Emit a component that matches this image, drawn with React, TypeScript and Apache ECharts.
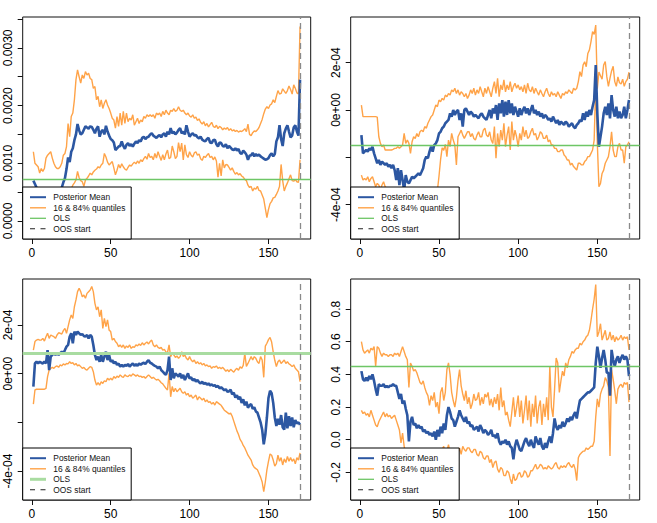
import React, { useEffect, useRef } from 'react';
import * as echarts from 'echarts';

// Observation index runs 1..170; the out-of-sample period starts at 170.
const OOS_START = 170;
const X_TICKS = [0, 50, 100, 150];

// Panel 1 (top left), values in units of 1e-3
const p1Mean = [
  0.70, 0.64, 0.58, 0.52, 0.50, 0.47, 0.49, 0.45, 0.47, 0.44,
  0.42, 0.45, 0.43, 0.46, 0.44, 0.48, 0.47, 0.52, 0.58, 0.67,
  0.74, 0.90, 1.10, 1.02, 1.20, 1.26, 1.40, 1.50, 1.68, 1.57,
  1.50, 1.52, 1.58, 1.64, 1.62, 1.60, 1.64, 1.63, 1.58, 1.52,
  1.60, 1.64, 1.46, 1.55, 1.58, 1.50, 1.65, 1.55, 1.48, 1.42,
  1.40, 1.36, 1.23, 1.26, 1.29, 1.30, 1.38, 1.30, 1.25, 1.32,
  1.35, 1.30, 1.33, 1.29, 1.34, 1.38, 1.35, 1.40, 1.38, 1.44,
  1.46, 1.42, 1.45, 1.46, 1.50, 1.52, 1.48, 1.46, 1.44, 1.47,
  1.49, 1.45, 1.50, 1.52, 1.46, 1.55, 1.50, 1.61, 1.52, 1.55,
  1.50, 1.53, 1.58, 1.61, 1.52, 1.55, 1.50, 1.66, 1.55, 1.46,
  1.50, 1.52, 1.48, 1.49, 1.45, 1.43, 1.46, 1.41, 1.39, 1.38,
  1.42, 1.44, 1.36, 1.35, 1.40, 1.41, 1.33, 1.29, 1.36, 1.35,
  1.30, 1.29, 1.33, 1.26, 1.30, 1.27, 1.24, 1.23, 1.26, 1.22,
  1.25, 1.18, 1.16, 1.22, 1.19, 1.15, 1.06, 1.13, 1.14, 1.18,
  1.12, 1.16, 1.13, 1.15, 1.12, 1.10, 1.08, 1.06, 1.07, 1.09,
  1.14, 1.17, 1.12, 1.16, 1.38, 1.45, 1.66, 1.42, 1.30, 1.52,
  1.60, 1.66, 1.55, 1.45, 1.48, 1.62, 1.66, 1.55, 1.48, 2.45,
];
const p1Upper = [
  1.20, 1.00, 0.97, 0.94, 0.83, 0.91, 0.86, 0.91, 1.09, 1.14,
  1.17, 1.20, 1.09, 1.00, 0.94, 0.91, 0.91, 0.94, 1.00, 1.14,
  1.17, 1.29, 1.69, 1.46, 1.81, 1.87, 2.10, 2.45, 2.62, 2.50,
  2.39, 2.53, 2.47, 2.59, 2.53, 2.56, 2.47, 2.45, 2.30, 2.33,
  2.10, 2.16, 1.98, 2.10, 1.95, 2.04, 2.10, 2.01, 1.95, 1.87,
  1.78, 1.75, 1.61, 1.81, 1.64, 1.87, 1.66, 1.90, 1.69, 1.87,
  1.72, 1.78, 1.75, 1.84, 1.66, 1.72, 1.78, 1.69, 1.75, 1.72,
  1.81, 1.78, 1.84, 1.81, 1.84, 1.81, 1.84, 1.78, 1.87, 1.84,
  1.87, 1.81, 1.90, 1.84, 1.92, 1.87, 1.84, 1.92, 1.90, 1.95,
  1.90, 1.92, 1.98, 1.92, 1.90, 1.92, 1.87, 1.84, 1.87, 1.82,
  1.80, 1.84, 1.78, 1.80, 1.74, 1.77, 1.71, 1.68, 1.72, 1.65,
  1.69, 1.63, 1.67, 1.71, 1.64, 1.62, 1.66, 1.60, 1.64, 1.62,
  1.58, 1.61, 1.59, 1.62, 1.57, 1.60, 1.56, 1.58, 1.55, 1.57,
  1.54, 1.56, 1.55, 1.57, 1.60, 1.55, 1.68, 1.50, 1.48, 1.53,
  1.56, 1.55, 1.58, 1.62, 1.69, 1.76, 1.86, 1.94, 1.98, 1.95,
  2.01, 2.03, 2.10, 2.05, 2.16, 2.26, 2.20, 2.21, 2.29, 2.25,
  2.21, 2.26, 2.34, 2.28, 2.20, 2.36, 2.30, 2.22, 2.20, 3.37,
];
const p1Lower = [
  0.40, 0.35, 0.30, 0.26, 0.22, 0.25, 0.20, 0.18, 0.22, 0.19,
  0.16, 0.20, 0.17, 0.21, 0.18, 0.22, 0.20, 0.25, 0.28, 0.32,
  0.36, 0.42, 0.48, 0.52, 0.56, 0.62, 0.66, 0.71, 0.86, 0.75,
  0.70, 0.68, 0.60, 0.71, 0.74, 0.78, 0.83, 0.80, 0.85, 0.88,
  0.90, 0.94, 0.92, 0.97, 1.00, 1.17, 1.11, 1.02, 0.97, 1.00,
  1.03, 0.92, 0.80, 0.88, 0.98, 0.92, 0.99, 0.94, 0.90, 0.88,
  0.93, 0.97, 0.95, 0.99, 1.02, 0.99, 1.04, 1.00, 1.06, 1.03,
  1.08, 1.12, 1.07, 1.17, 1.10, 1.12, 1.06, 1.17, 1.09, 1.20,
  1.12, 1.05, 1.15, 1.06, 1.16, 1.23, 1.08, 1.10, 1.30, 1.20,
  1.08, 1.12, 1.36, 1.20, 1.35, 1.06, 1.32, 1.15, 1.10, 1.20,
  1.14, 1.11, 1.18, 1.20, 1.14, 1.16, 1.08, 1.05, 1.12, 1.10,
  1.14, 1.17, 1.10, 1.12, 1.06, 1.11, 1.04, 0.76, 1.00, 0.78,
  1.06, 0.92, 0.98, 0.97, 0.93, 0.88, 0.92, 0.86, 0.81, 0.84,
  0.80, 0.82, 0.78, 0.76, 0.72, 0.70, 0.62, 0.58, 0.60, 0.52,
  0.57, 0.55, 0.60, 0.53, 0.52, 0.45, 0.38, 0.22, 0.06, 0.20,
  0.30, 0.34, 0.40, 0.41, 0.46, 0.52, 0.60, 0.98, 0.70, 0.52,
  0.60, 0.66, 0.73, 0.80, 0.70, 0.69, 0.72, 0.68, 0.67, 1.06,
];
const p1Ols = 0.72;

// Panel 2 (top right), values in units of 1e-4
const p2Mean = [
  -1.06, -1.83, -1.76, -1.69, -1.76, -1.62, -1.69, -1.55, -1.83, -2.04,
  -2.25, -2.11, -2.32, -2.18, -2.25, -2.32, -2.25, -2.39, -2.32, -2.46,
  -2.32, -2.54, -2.96, -2.46, -3.17, -2.54, -2.96, -3.38, -2.75, -3.03,
  -3.10, -2.96, -2.82, -2.89, -2.82, -2.75, -2.68, -2.75, -2.61, -2.46,
  -2.11, -1.97, -2.04, -1.76, -1.55, -1.76, -1.48, -1.41, -1.27, -0.99,
  -0.92, -0.77, -0.70, -0.56, -0.49, -0.42, -0.14, -0.28, 0.00, -0.21,
  -0.07, 0.00, -0.42, -0.14, -0.70, 0.00, 0.07, -0.07, -0.21, -0.07,
  -0.14, -0.28, -0.21, -0.28, -0.35, -0.21, -0.14, -0.28, -0.35, -0.42,
  -0.21, 0.00, -0.35, 0.07, -0.14, 0.21, -0.42, 0.28, -0.14, 0.42,
  -0.28, 0.35, -0.21, 0.42, -0.14, 0.28, -0.21, 0.14, -0.07, -0.28,
  0.07, -0.21, 0.00, 0.14, -0.14, 0.07, -0.21, 0.00, 0.21, -0.14,
  0.00, -0.21, -0.07, -0.28, -0.14, -0.35, -0.21, -0.28, -0.42, -0.35,
  -0.49, -0.28, -0.42, -0.56, -0.42, -0.63, -0.49, -0.56, -0.63, -0.49,
  -0.56, -0.70, -0.63, -0.56, -0.70, -0.77, -0.63, -0.56, -0.42, -0.49,
  -0.14, -0.42, -0.07, -0.28, 0.00, -0.21, 0.14, 0.42, 1.90, -0.14,
  -1.55, -1.13, -0.70, -0.14, 0.14, -0.21, 0.28, -0.35, 0.63, 0.00,
  -0.28, 0.14, -0.35, -0.07, -0.35, -0.21, 0.14, -0.35, 0.00, 0.42,
];
const p2Upper = [
  0.21, -0.28, -0.28, -0.28, -0.28, -0.28, -0.28, -0.28, -0.28, -0.28,
  -0.30, -1.13, -1.41, -1.55, -1.48, -1.69, -1.69, -1.69, -1.69, -1.69,
  -1.66, -1.62, -1.62, -1.55, -1.62, -1.55, -1.48, -0.99, -1.41, -1.27,
  -1.41, -1.83, -1.34, -1.13, -1.20, -0.99, -1.13, -0.92, -0.85, -0.92,
  -0.70, -0.77, -0.56, -0.42, -0.28, -0.21, 0.00, 0.21, 0.14, 0.42,
  0.35, 0.49, 0.42, 0.63, 0.56, 0.70, 0.63, 0.85, 0.77, 0.92,
  0.70, 0.85, 0.63, 0.77, 0.70, 0.56, 0.70, 0.49, 0.63, 0.85,
  0.70, 0.92, 0.63, 0.85, 0.70, 0.99, 0.77, 0.56, 0.92, 0.70,
  0.99, 0.77, 0.56, 0.92, 1.20, 0.70, 1.34, 0.56, 1.06, 0.85,
  1.27, 0.77, 1.06, 0.85, 1.20, 0.77, 0.99, 1.13, 0.92, 1.06,
  0.85, 0.99, 0.77, 1.06, 0.70, 1.13, 0.85, 0.77, 0.99, 0.70,
  0.92, 0.77, 0.63, 0.85, 0.70, 0.56, 0.77, 0.92, 0.70, 0.56,
  0.77, 0.63, 0.70, 0.56, 0.77, 0.63, 0.49, 0.70, 0.63, 0.77,
  0.70, 0.85, 0.77, 0.70, 0.92, 0.85, 0.92, 1.20, 1.62, 1.41,
  1.90, 2.04, 1.83, 2.39, 2.54, 2.89, 3.31, 3.20, 3.59, 0.90,
  1.60, 1.45, 1.30, 1.90, 2.05, 1.40, 1.00, 1.35, 1.65, 1.85,
  1.20, 1.00, 1.40, 1.15, 1.10, 1.30, 1.00, 1.20, 1.30, 1.60,
];
const p2Lower = [
  -2.75, -2.96, -2.89, -2.96, -2.82, -3.03, -2.89, -2.82, -3.03, -3.24,
  -3.10, -3.17, -3.38, -3.17, -3.03, -3.24, -3.31, -3.45, -3.38, -3.60,
  -3.70, -3.85, -4.00, -4.10, -4.25, -4.15, -4.35, -4.50, -4.30, -4.45,
  -4.60, -4.40, -4.55, -4.45, -4.60, -4.50, -4.40, -4.55, -4.35, -4.45,
  -4.30, -4.20, -4.35, -4.10, -4.20, -4.00, -3.90, -3.70, -3.40, -2.80,
  -2.10, -1.60, -1.70, -1.45, -1.97, -1.27, -1.55, -0.99, -1.27, -1.48,
  -2.32, -1.13, -0.99, -0.85, -1.06, -1.20, -1.06, -0.92, -0.92, -1.13,
  -0.99, -1.20, -1.27, -1.06, -0.92, -1.13, -1.13, -0.85, -0.77, -1.06,
  -1.13, -0.92, -1.27, -1.41, -0.70, -2.04, -0.99, -1.55, -0.85, -1.27,
  -0.56, -1.55, -1.06, -0.70, -1.69, -0.49, -1.27, -0.85, -1.13, -1.55,
  -0.99, -1.27, -0.70, -1.13, -0.85, -1.20, -1.13, -0.92, -0.77, -1.06,
  -0.99, -1.27, -1.13, -0.92, -0.99, -1.20, -1.20, -1.06, -1.34, -1.27,
  -1.48, -1.48, -1.62, -1.62, -1.76, -1.76, -1.69, -1.69, -1.90, -1.97,
  -2.11, -2.11, -2.32, -2.25, -2.39, -2.46, -2.54, -2.25, -2.25, -2.32,
  -2.32, -2.18, -2.11, -1.97, -1.97, -1.83, -1.69, -1.27, 1.13, -1.41,
  -3.24, -3.10, -2.68, -2.54, -2.25, -2.11, -1.97, -1.55, -0.92, -1.69,
  -1.97, -1.97, -1.55, -1.41, -1.69, -1.69, -2.25, -1.55, -1.48, -1.34,
];
const p2Ols = -1.49;

// Panel 3 (bottom left), values in units of 1e-4
const p3Mean = [
  -0.53, 0.42, 0.49, 0.42, 0.49, 0.45, 0.42, 0.49, 0.42, 0.97,
  0.15, 0.70, 0.77, 0.84, 0.77, 0.84, 0.77, 0.84, 0.90, 0.84,
  0.97, 1.11, 1.18, 1.52, 1.66, 1.25, 1.73, 1.59, 1.73, 1.66,
  1.59, 1.63, 1.55, 1.52, 1.59, 1.45, 1.59, 1.52, 1.18, 0.77,
  0.56, 0.70, 0.49, 0.77, 0.49, 0.70, 0.90, 0.56, 0.77, 0.49,
  0.56, 0.42, 0.49, 0.36, 0.42, 0.29, 0.36, 0.29, 0.36, 0.32,
  0.40, 0.29, 0.36, 0.42, 0.32, 0.40, 0.32, 0.42, 0.36, 0.42,
  0.45, 0.40, 0.49, 0.56, 0.45, 0.42, 0.36, 0.32, 0.29, 0.22,
  0.29, 0.15, 0.08, 0.01, -0.05, 0.15, 0.70, -0.26, 0.22, -0.19,
  0.01, -0.05, -0.12, 0.01, -0.19, -0.05, -0.26, -0.12, 0.01, -0.20,
  -0.15, -0.28, -0.22, -0.32, -0.26, -0.35, -0.40, -0.33, -0.42, -0.38,
  -0.45, -0.40, -0.48, -0.44, -0.50, -0.47, -0.55, -0.50, -0.60, -0.56,
  -0.62, -0.68, -0.64, -0.75, -0.72, -0.66, -0.85, -0.78, -0.98, -0.88,
  -1.05, -0.95, -1.20, -1.05, -1.30, -1.15, -1.40, -1.30, -1.25, -1.45,
  -1.38, -1.55, -1.60, -1.80, -2.00, -2.30, -2.90, -2.50, -1.80, -1.00,
  -0.70, -0.80, -1.20, -1.80, -2.15, -1.85, -2.10, -1.70, -2.20, -2.30,
  -1.60, -2.25, -1.75, -2.15, -1.80, -2.20, -1.90, -2.05, -2.00, -2.10,
];
const p3Upper = [
  0.97, 1.32, 1.38, 1.41, 1.38, 1.38, 1.45, 1.34, 1.52, 1.66,
  1.45, 1.59, 1.55, 1.52, 1.45, 1.59, 1.68, 1.66, 1.63, 1.77,
  1.86, 1.66, 1.93, 2.21, 2.41, 2.27, 2.75, 3.03, 3.37, 3.51,
  3.37, 3.16, 3.23, 3.10, 3.30, 3.37, 3.44, 3.58, 3.37, 2.89,
  2.62, 2.75, 2.34, 2.62, 1.86, 2.27, 1.93, 2.21, 1.79, 1.73,
  1.38, 1.45, 1.32, 1.25, 1.11, 1.18, 1.08, 1.18, 1.04, 1.14,
  1.08, 1.18, 1.04, 1.11, 1.08, 1.18, 1.14, 1.22, 1.16, 1.27,
  1.18, 1.25, 1.30, 1.22, 1.32, 1.38, 1.18, 1.11, 1.18, 1.08,
  1.04, 1.08, 0.97, 1.00, 0.90, 0.86, 1.18, 0.70, 0.84, 0.77,
  0.67, 0.73, 0.63, 0.70, 0.90, 0.70, 0.77, 0.63, 0.56, 0.70,
  0.56, 0.49, 0.56, 0.42, 0.49, 0.40, 0.45, 0.36, 0.42, 0.32,
  0.36, 0.29, 0.32, 0.22, 0.29, 0.26, 0.32, 0.22, 0.26, 0.20,
  0.26, 0.18, 0.10, 0.16, 0.08, 0.18, 0.12, 0.06, 0.16, 0.22,
  0.14, 0.28, 0.22, 0.34, 0.84, 0.30, 0.42, 0.56, 0.70, 0.56,
  0.70, 0.63, 0.49, 0.42, 0.70, 0.56, -0.15, 1.13, 1.25, 1.40,
  1.49, 1.30, 0.90, 0.55, 0.29, 0.49, 0.56, 0.42, 0.49, 0.56,
  0.42, 0.49, 0.40, 0.36, 0.29, 0.36, 0.22, 0.15, 0.08, -0.33,
];
const p3Lower = [
  -1.25, -0.67, -0.64, -0.64, -0.64, -0.64, -0.64, -0.64, -0.60, -0.12,
  0.15, 0.22, 0.26, 0.22, 0.29, 0.32, 0.26, 0.36, 0.32, 0.40,
  0.36, 0.42, 0.40, 0.49, 0.42, 0.45, 0.36, 0.42, 0.32, 0.36,
  0.29, 0.22, 0.26, 0.18, 0.15, 0.22, 0.29, 0.26, 0.08, -0.26,
  -0.47, -0.37, -0.47, -0.33, -0.40, -0.29, -0.33, -0.19, -0.26, -0.19,
  -0.26, -0.12, -0.19, -0.10, -0.15, -0.05, -0.12, -0.15, -0.05, -0.10,
  -0.12, -0.05, -0.10, -0.01, -0.05, -0.10, -0.05, -0.12, -0.10, -0.15,
  -0.12, -0.19, -0.12, -0.05, -0.12, -0.19, -0.15, -0.21, -0.26, -0.23,
  -0.29, -0.37, -0.42, -0.51, -0.60, -0.67, 0.01, -0.95, -0.53, -0.74,
  -0.60, -0.74, -0.67, -0.60, -0.74, -0.81, -0.74, -0.88, -0.81, -0.95,
  -0.88, -1.01, -0.95, -0.88, -1.08, -0.95, -1.01, -1.08, -1.01, -1.15,
  -1.08, -1.18, -1.15, -1.25, -1.18, -1.29, -1.15, -1.20, -1.25, -1.30,
  -1.40, -1.50, -1.55, -1.60, -1.65, -1.62, -1.75, -1.95, -2.15, -2.35,
  -2.50, -2.70, -2.80, -2.95, -3.05, -3.20, -3.35, -3.45, -3.55, -3.75,
  -3.85, -3.90, -3.95, -4.10, -4.25, -4.45, -4.85, -4.45, -3.95, -3.60,
  -3.30, -3.35, -3.55, -3.80, -3.70, -3.35, -3.60, -3.45, -3.75, -3.50,
  -3.65, -3.40, -3.60, -3.45, -3.60, -3.50, -3.70, -3.45, -3.55, -3.25,
];
const p3Ols = 0.82;

// Panel 4 (bottom right), values in natural units
const p4Mean = [
  0.42, 0.37, 0.36, 0.38, 0.36, 0.39, 0.37, 0.40, 0.36, 0.31,
  0.27, 0.34, 0.33, 0.33, 0.34, 0.32, 0.33, 0.32, 0.33, 0.33,
  0.34, 0.33, 0.33, 0.29, 0.25, 0.28, 0.22, 0.24, 0.19, 0.15,
  -0.01, 0.11, 0.14, 0.09, 0.10, 0.07, 0.09, 0.07, 0.08, 0.05,
  0.06, 0.04, 0.05, 0.03, 0.04, 0.02, 0.05, 0.00, 0.06, 0.02,
  0.08, 0.04, 0.10, 0.06, 0.15, 0.20, 0.17, 0.13, 0.12, 0.08,
  0.11, 0.14, 0.18, 0.15, 0.13, 0.11, 0.14, 0.10, 0.11, 0.08,
  0.09, 0.06, 0.07, 0.08, 0.05, 0.09, 0.07, 0.04, 0.06, 0.05,
  0.03, 0.04, 0.06, 0.02, 0.03, 0.01, 0.04, -0.01, -0.03, -0.01,
  -0.02, 0.00, -0.03, -0.01, -0.04, -0.05, -0.12, -0.04, 0.00, -0.03,
  -0.06, -0.07, -0.04, -0.01, 0.01, -0.02, -0.04, 0.00, -0.03, -0.05,
  0.02, -0.01, -0.03, 0.01, -0.04, -0.06, -0.02, -0.05, -0.01, 0.02,
  -0.02, 0.04, 0.13, 0.08, 0.06, 0.09, 0.07, 0.11, 0.08, 0.10,
  0.13, 0.11, 0.14, 0.12, 0.15, 0.17, 0.13, 0.19, 0.24, 0.25,
  0.26, 0.27, 0.28, 0.29, 0.29, 0.30, 0.31, 0.32, 0.47, 0.57,
  0.51, 0.44, 0.50, 0.55, 0.49, 0.41, 0.41, 0.27, 0.55, 0.49,
  0.45, 0.49, 0.51, 0.47, 0.50, 0.52, 0.49, 0.51, 0.49, 0.39,
];
const p4Upper = [
  0.60, 0.55, 0.53, 0.54, 0.55, 0.53, 0.56, 0.55, 0.57, 0.45,
  0.57, 0.56, 0.53, 0.51, 0.53, 0.52, 0.52, 0.51, 0.52, 0.52,
  0.51, 0.53, 0.52, 0.53, 0.51, 0.54, 0.57, 0.54, 0.51, 0.49,
  0.32, 0.47, 0.45, 0.42, 0.43, 0.41, 0.38, 0.35, 0.34, 0.36,
  0.32, 0.29, 0.27, 0.21, 0.27, 0.24, 0.29, 0.20, 0.23, 0.16,
  0.29, 0.32, 0.24, 0.29, 0.43, 0.47, 0.40, 0.29, 0.24, 0.20,
  0.26, 0.36, 0.43, 0.33, 0.28, 0.24, 0.30, 0.22, 0.26, 0.19,
  0.22, 0.28, 0.24, 0.25, 0.29, 0.21, 0.26, 0.22, 0.28, 0.26,
  0.29, 0.21, 0.25, 0.20, 0.26, 0.22, 0.28, 0.18, 0.32, 0.20,
  0.24, 0.15, 0.17, 0.12, 0.08, 0.17, 0.26, 0.14, 0.20, 0.27,
  0.14, 0.24, 0.10, 0.18, 0.27, 0.12, 0.24, 0.08, 0.22, 0.14,
  0.27, 0.10, 0.20, 0.24, 0.09, 0.22, 0.14, 0.26, 0.12, 0.45,
  0.20, 0.14, 0.31, 0.50, 0.47, 0.29, 0.36, 0.42, 0.39, 0.47,
  0.44, 0.49, 0.51, 0.54, 0.53, 0.55, 0.56, 0.56, 0.59, 0.58,
  0.60, 0.61, 0.63, 0.64, 0.67, 0.73, 0.80, 0.86, 0.95, 0.63,
  0.66, 0.71, 0.61, 0.64, 0.67, 0.61, 0.62, 0.66, 0.61, 0.64,
  0.60, 0.63, 0.61, 0.62, 0.64, 0.61, 0.63, 0.62, 0.63, 0.55,
];
const p4Lower = [
  0.18, 0.16, 0.17, 0.15, 0.16, 0.14, 0.18, 0.15, 0.12, 0.09,
  0.08, 0.11, 0.13, 0.15, 0.17, 0.14, 0.16, 0.14, 0.15, 0.13,
  0.14, 0.15, 0.12, 0.09, 0.06, -0.02, 0.04, -0.04, -0.09, -0.12,
  -0.20, -0.14, -0.16, -0.12, -0.15, -0.13, -0.17, -0.14, -0.18, -0.15,
  -0.19, -0.16, -0.20, -0.17, -0.21, -0.16, -0.19, -0.14, -0.10, -0.12,
  -0.08, -0.06, -0.04, -0.09, -0.07, -0.03, -0.08, -0.11, -0.09, -0.12,
  -0.10, -0.08, -0.05, -0.09, -0.04, -0.06, -0.07, -0.05, -0.05, -0.07,
  -0.08, -0.06, -0.06, -0.09, -0.10, -0.07, -0.08, -0.11, -0.12, -0.10,
  -0.10, -0.14, -0.12, -0.17, -0.14, -0.13, -0.18, -0.20, -0.17, -0.18,
  -0.22, -0.22, -0.19, -0.20, -0.24, -0.27, -0.21, -0.25, -0.24, -0.21,
  -0.20, -0.23, -0.22, -0.19, -0.20, -0.23, -0.22, -0.19, -0.19, -0.17,
  -0.15, -0.18, -0.17, -0.15, -0.16, -0.18, -0.17, -0.18, -0.16, -0.17,
  -0.18, -0.17, -0.15, -0.14, -0.17, -0.18, -0.16, -0.17, -0.16, -0.17,
  -0.15, -0.14, -0.16, -0.17, -0.15, -0.18, -0.25, -0.11, -0.09, -0.08,
  -0.07, -0.07, -0.05, -0.06, -0.05, -0.04, -0.04, -0.01, 0.14, 0.25,
  0.20, 0.28, 0.31, 0.33, 0.38, 0.36, 0.32, -0.10, 0.43, 0.37,
  0.30, 0.22, 0.31, 0.33, 0.34, 0.32, 0.35, 0.34, 0.35, 0.23,
];
const p4Ols = 0.45;

// Y tick positions and labelled ticks per panel
const p1Ticks = [0, 0.0005, 0.001, 0.0015, 0.002, 0.0025, 0.003, 0.0035];
const p1Labels = [0, 0.001, 0.002, 0.003];
const sciTicks = [-4e-4, -2e-4, 0, 2e-4];
const sciLabels = [-4e-4, 0, 2e-4];
const p4Ticks = [-0.2, 0, 0.2, 0.4, 0.6, 0.8];

const LEGEND_TEXT = ['Posterior Mean', '16 & 84% quantiles', 'OLS', 'OOS start'];

const BLUE = '#2c57a2';
const ORANGE = '#ffa348';
const GREEN = '#6ec666';
const GREEN_WIDE = '#a9dca1';
const FONT = '"Liberation Sans", Arial, Helvetica, sans-serif';

const sciFmt = (v: number) => {
  const m = Math.round(v / 1e-4);
  return m === 0 ? '0e+00' : `${m}e-04`;
};

const panels = [
  {
    grid: { left: 22.7, top: 17, width: 288, height: 222 },
    scale: 1e-3, mean: p1Mean, upper: p1Upper, lower: p1Lower, ols: p1Ols,
    yMin: -0.312e-3, yMax: 3.535e-3, ticks: p1Ticks, labels: p1Labels,
    fmt: (v: number) => v.toFixed(4), olsColor: GREEN, olsWidth: 1.3,
  },
  {
    grid: { left: 350.7, top: 17, width: 289, height: 222 },
    scale: 1e-4, mean: p2Mean, upper: p2Upper, lower: p2Lower, ols: p2Ols,
    yMin: -5.45e-4, yMax: 3.93e-4, ticks: sciTicks, labels: sciLabels,
    fmt: sciFmt, olsColor: GREEN, olsWidth: 1.3,
  },
  {
    grid: { left: 22.7, top: 279, width: 288, height: 221 },
    scale: 1e-4, mean: p3Mean, upper: p3Upper, lower: p3Lower, ols: p3Ols,
    yMin: -5.19e-4, yMax: 3.89e-4, ticks: sciTicks, labels: sciLabels,
    fmt: sciFmt, olsColor: GREEN_WIDE, olsWidth: 3,
  },
  {
    grid: { left: 350.7, top: 279, width: 289, height: 221 },
    scale: 1, mean: p4Mean, upper: p4Upper, lower: p4Lower, ols: p4Ols,
    yMin: -0.369, yMax: 0.984, ticks: p4Ticks, labels: p4Ticks,
    fmt: (v: number) => v.toFixed(1), olsColor: GREEN, olsWidth: 1.3,
  },
];

const toPairs = (vals: number[], scale: number) => vals.map((v, k) => [k + 1, v * scale]);

function legendGraphic(g: { left: number; top: number; width: number; height: number }, olsColor: string, olsWidth: number) {
  const w = 108.5;
  const h = 52;
  const x0 = g.left;
  const y0 = g.top + g.height - h;
  const rows = [10.2, 20.8, 31.3, 41.8];
  const samples = [
    { stroke: BLUE, lineWidth: 2, lineDash: null as number[] | null },
    { stroke: ORANGE, lineWidth: 1.4, lineDash: null },
    { stroke: olsColor, lineWidth: olsWidth, lineDash: null },
    { stroke: '#222', lineWidth: 1.1, lineDash: [5, 5.5] },
  ];
  const children: any[] = [
    {
      type: 'rect',
      shape: { x: x0, y: y0, width: w, height: h },
      style: { fill: '#fff', stroke: '#000', lineWidth: 1 },
      z: 100,
    },
  ];
  rows.forEach((dy, k) => {
    children.push({
      type: 'line',
      shape: { x1: x0 + 7.3, y1: y0 + dy, x2: x0 + 23.3, y2: y0 + dy },
      style: {
        stroke: samples[k].stroke,
        lineWidth: samples[k].lineWidth,
        lineDash: samples[k].lineDash || undefined,
      },
      z: 101,
    });
    children.push({
      type: 'text',
      x: x0 + 30.6,
      y: y0 + dy,
      style: {
        text: LEGEND_TEXT[k],
        fill: '#111',
        fontSize: 8.4,
        fontFamily: FONT,
        align: 'left',
        verticalAlign: 'middle',
      },
      z: 101,
    });
  });
  return children;
}

function buildOption() {
  const grid: any[] = [];
  const xAxis: any[] = [];
  const yAxis: any[] = [];
  const series: any[] = [];
  const graphic: any[] = [];

  panels.forEach((p, k) => {
    grid.push({
      ...p.grid,
      containLabel: false,
      show: true,
      borderColor: '#111',
      borderWidth: 1,
      backgroundColor: 'transparent',
    });
    xAxis.push({
      type: 'value',
      gridIndex: k,
      position: 'bottom',
      min: -5.76,
      max: 176.76,
      axisLine: { show: false, onZero: false },
      splitLine: { show: false },
      axisTick: {
        show: true, length: 5, customValues: X_TICKS,
        lineStyle: { color: '#111', width: 1 },
      },
      axisLabel: {
        customValues: X_TICKS, fontSize: 12, color: '#000',
        fontFamily: FONT, margin: 7.5,
      },
    });
    yAxis.push({
      type: 'value',
      gridIndex: k,
      position: 'left',
      min: p.yMin,
      max: p.yMax,
      axisLine: { show: false, onZero: false },
      splitLine: { show: false },
      axisTick: {
        show: true, length: 5, customValues: p.ticks,
        lineStyle: { color: '#111', width: 1 },
      },
      axisLabel: {
        customValues: p.labels, fontSize: 12, color: '#000',
        fontFamily: FONT, rotate: 90, margin: 8.5,
        formatter: (v: number) => p.fmt(v),
      },
    });
    series.push({
      type: 'line', xAxisIndex: k, yAxisIndex: k, name: `upper${k}`,
      data: toPairs(p.upper, p.scale), symbol: 'none', z: 2,
      lineStyle: { color: ORANGE, width: 1.4 },
    });
    series.push({
      type: 'line', xAxisIndex: k, yAxisIndex: k, name: `lower${k}`,
      data: toPairs(p.lower, p.scale), symbol: 'none', z: 2,
      lineStyle: { color: ORANGE, width: 1.4 },
      markLine: {
        silent: true, symbol: ['none', 'none'], label: { show: false },
        precision: 12,
        lineStyle: { color: p.olsColor, width: p.olsWidth, type: 'solid', opacity: 1 },
        emphasis: { disabled: true },
        data: [{ yAxis: p.ols * p.scale }],
      },
    });
    series.push({
      type: 'line', xAxisIndex: k, yAxisIndex: k, name: `mean${k}`,
      data: toPairs(p.mean, p.scale), symbol: 'none', z: 4,
      lineStyle: { color: BLUE, width: 2.6 },
      markLine: {
        silent: true, symbol: ['none', 'none'], label: { show: false },
        lineStyle: { color: '#8a8a8a', width: 1.3, type: [6, 4] },
        data: [{ xAxis: OOS_START }],
      },
    });
    graphic.push(...legendGraphic(p.grid, p.olsColor, p.olsWidth));
  });

  return {
    animation: false,
    backgroundColor: '#fff',
    grid,
    xAxis,
    yAxis,
    series,
    graphic,
  };
}

export default function App() {
  const ref = useRef<HTMLDivElement>(null);
  useEffect(() => {
    if (!ref.current) return;
    const chart = echarts.init(ref.current, undefined, { renderer: 'svg' });
    chart.setOption(buildOption());
    return () => chart.dispose();
  }, []);
  return (
    <div
      ref={ref}
      style={{ position: 'fixed', left: 0, top: 0, width: 657, height: 523, background: '#fff' }}
    />
  );
}
